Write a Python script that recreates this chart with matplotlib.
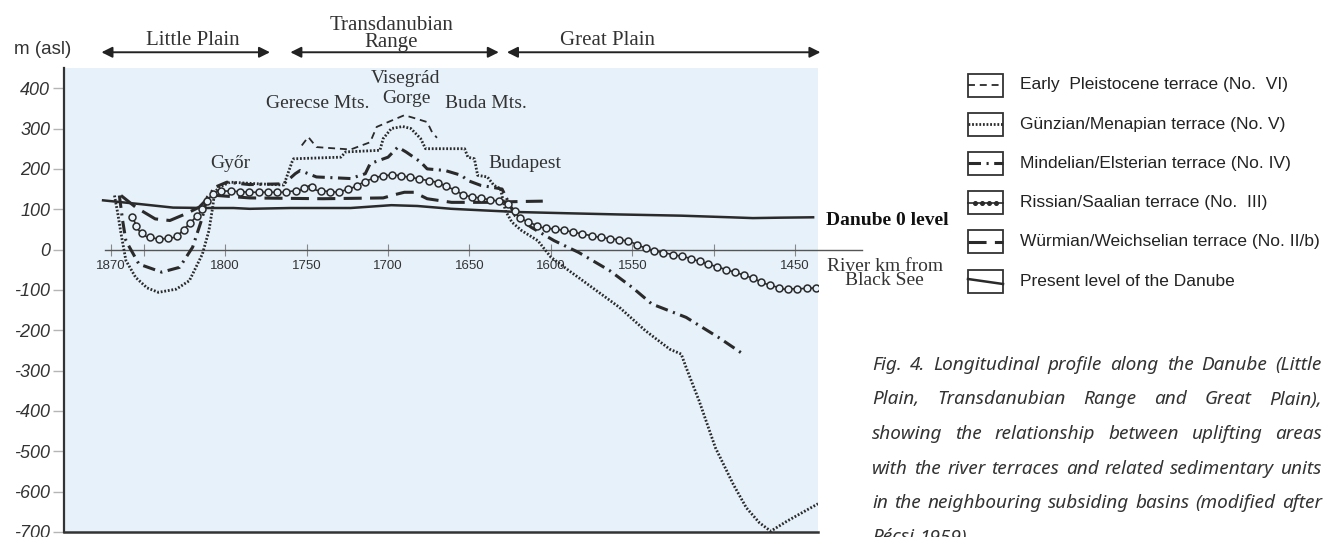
import numpy as np
import matplotlib
matplotlib.use("Agg")
import matplotlib.pyplot as plt
from matplotlib.patches import Rectangle

plt.rcParams["font.family"] = "Liberation Sans"
plt.rcParams["lines.scale_dashes"] = False

# ---- data (river km from Black Sea, m asl) ----
danube_km = [1875, 1853, 1832, 1812, 1795, 1785, 1760, 1723, 1698, 1682, 1661, 1641,
             1620, 1590, 1558, 1520, 1490, 1476, 1460, 1439]
danube_m = [122, 113, 104, 103, 103, 101, 103, 103, 110, 108, 101, 97,
            93, 90, 87, 84, 80, 78, 79, 80]

riss_km = [1857, 1853, 1848, 1842, 1836, 1830, 1822, 1816, 1812, 1808, 1804, 1797,
           1785, 1765, 1754, 1748, 1744, 1731, 1723, 1713, 1703, 1694, 1682, 1670,
           1661, 1653, 1641, 1628, 1623, 1620, 1616, 1606, 1591, 1571, 1552, 1546,
           1538, 1517, 1497, 1480, 1468, 1457, 1447, 1437]
riss_m = [80, 47, 31, 27, 27, 31, 64, 89, 114, 138, 145, 145,
          142, 142, 147, 159, 147, 142, 151, 171, 184, 184, 176, 167,
          151, 134, 126, 117, 101, 80, 72, 55, 47, 31, 21, 10,
          -2, -19, -44, -65, -85, -98, -97, -95]

wurm_km = [1864, 1855, 1843, 1834, 1824, 1816, 1810, 1805, 1785, 1740, 1703, 1696,
           1690, 1684, 1676, 1661, 1640, 1620, 1605]
wurm_m = [134, 105, 76, 72, 89, 105, 130, 134, 128, 126, 128, 136,
          142, 142, 126, 117, 117, 119, 120]

mind_km = [1865, 1863, 1861, 1853, 1839, 1828, 1820, 1814, 1811, 1806, 1799, 1785,
           1764, 1757, 1754, 1744, 1723, 1714, 1711, 1700, 1694, 1689, 1680, 1676,
           1665, 1655, 1651, 1643, 1637, 1630, 1622, 1612, 1598, 1583, 1564, 1550,
           1538, 1517, 1497, 1482]
mind_m = [134, 72, 22, -36, -56, -44, 6, 80, 130, 155, 167, 161,
          163, 188, 196, 180, 176, 188, 213, 229, 254, 242, 217, 200,
          196, 184, 171, 159, 155, 150, 84, 55, 22, -7, -52, -94,
          -135, -168, -218, -259]

gunz_km = [1868, 1866, 1864, 1861, 1855, 1848, 1841, 1830, 1822, 1814, 1810, 1807.7,
           1806.5, 1803.5, 1797, 1780, 1764, 1759, 1758, 1729, 1726, 1705, 1703, 1698,
           1691, 1686, 1680, 1677, 1653, 1651, 1647, 1645, 1639, 1635, 1631, 1628,
           1624, 1618, 1608, 1600, 1589, 1558, 1542, 1527, 1520, 1517, 1509, 1499,
           1488, 1480, 1472, 1465, 1455, 1436]
gunz_m = [134, 90, 40, -27, -69, -95, -106, -98, -77, -11, 47, 105,
          142, 155, 167, 163, 160, 217, 225, 229, 242, 246, 275, 300,
          305, 300, 275, 250, 250, 229, 225, 184, 180, 159, 151, 97,
          68, 47, 22, -19, -52, -143, -201, -247, -259, -292, -375, -491,
          -582, -640, -677, -698, -673, -630]

early_km = [1753, 1749, 1744, 1723, 1711, 1707, 1700, 1690, 1684, 1676, 1673, 1670]
early_m = [258, 279, 254, 248, 266, 304, 316, 333, 326, 316, 291, 277]

ytick_vals = list(range(-700, 401, 100))
xtick_km = [1870, 1850, 1800, 1750, 1700, 1650, 1600, 1550, 1500, 1450]
xtick_labels = ["1870", "", "1800", "1750", "1700", "1650", "1600", "1550", "", "1450"]

legend_labels = [
    "Early  Pleistocene terrace (No.  VI)",
    "Günzian/Menapian terrace (No. V)",
    "Mindelian/Elsterian terrace (No. IV)",
    "Rissian/Saalian terrace (No.  III)",
    "Würmian/Weichselian terrace (No. II/b)",
    "Present level of the Danube",
]

caption_lines = [
    "Fig. 4.  Longitudinal profile along the Danube (Little",
    "Plain, Transdanubian Range and Great Plain),",
    "showing the relationship between uplifting areas",
    "with the river terraces and related sedimentary units",
    "in the neighbouring subsiding basins (modified after",
    "Pécsi 1959).",
]

ink = "#2a2a2a"
bg = "#e6f1fa"
serif = "Liberation Serif"

# line styles (dash patterns in points)
st_early = dict(color=ink, lw=1.3, dashes=(5, 3.5))
st_gunz = dict(color=ink, lw=2.0, dashes=(1.3, 1.3))
st_mind = dict(color=ink, lw=2.2, dashes=(9, 4, 1.5, 4))
st_riss = dict(color=ink, lw=1.2)
st_wurm = dict(color=ink, lw=2.2, dashes=(13, 6))
st_dan = dict(color=ink, lw=1.8)

fig = plt.figure(figsize=(13.32, 5.37), dpi=100)
ax = fig.add_axes([64 / 1332, 5 / 537, 754 / 1332, 464 / 537])
ax.set_facecolor(bg)
ax.set_xlim(1899, 1436)
ax.set_ylim(-700, 450)

ax.spines["top"].set_visible(False)
ax.spines["right"].set_visible(False)
ax.spines["left"].set_color("#333333")
ax.spines["left"].set_linewidth(1.6)
ax.spines["bottom"].set_position(("data", 0))
ax.spines["bottom"].set_bounds(1874, 1409)
ax.spines["bottom"].set_color("#555555")
ax.spines["bottom"].set_linewidth(1.0)
ax.axhline(-700, color="#333333", lw=1.8, clip_on=False)

ax.set_yticks(ytick_vals)
ax.set_yticklabels([str(v) for v in ytick_vals])
for lbl in ax.get_yticklabels():
    lbl.set_style("italic")
ax.tick_params(axis="y", length=8, width=1, color="#b5b5b5", labelsize=13,
               labelcolor="#333333", pad=2)
ax.set_xticks(xtick_km)
ax.set_xticklabels(xtick_labels)
ax.tick_params(axis="x", direction="inout", length=9, width=0.8, color="#888888",
               labelsize=9.5, labelcolor="#333333", pad=3)

# curves
ax.plot(danube_km, danube_m, **st_dan, zorder=3)
ax.plot(wurm_km, wurm_m, **st_wurm, zorder=3)
ax.plot(mind_km, mind_m, **st_mind, zorder=3)
ax.plot(gunz_km, gunz_m, **st_gunz, zorder=3)
ax.plot(early_km, early_m, **st_early, zorder=3)
ax.plot(riss_km, riss_m, **st_riss, zorder=4)


# circles of the Rissian line sit at an even spacing along the drawn line
def along(xs, ys, step):
    pts = ax.transData.transform(np.column_stack([xs, ys]))
    seg = np.hypot(*np.diff(pts, axis=0).T)
    dist = np.concatenate([[0], np.cumsum(seg)])
    d = np.arange(0, dist[-1] + 0.1, step)
    p = np.column_stack([np.interp(d, dist, pts[:, 0]), np.interp(d, dist, pts[:, 1])])
    return ax.transData.inverted().transform(p)


rc = along(riss_km, riss_m, 9.3)
ax.plot(rc[:, 0], rc[:, 1], ls="none", marker="o", ms=5, mfc=bg, mec=ink,
        mew=1.1, zorder=5)

# place names
txt = dict(family=serif, color="#333333", ha="center", va="center")
ax.text(1689, 425, "Visegrád", fontsize=14, **txt)
ax.text(1689, 375, "Gorge", fontsize=14, **txt)
ax.text(1743, 362, "Gerecse Mts.", fontsize=14, **txt)
ax.text(1640, 362, "Buda Mts.", fontsize=14, **txt)
ax.text(1797, 213, "Győr", fontsize=14, **txt)
ax.text(1616, 213, "Budapest", fontsize=14, **txt)
ax.text(1431, 72, "Danube 0 level", fontsize=14, family=serif, weight="bold",
        color="#111111", ha="left", va="center", clip_on=False)
ax.text(1395, -60, "River km from\nBlack See", fontsize=14, family=serif,
        color="#333333", ha="center", va="center", linespacing=0.75, clip_on=False)

# regions above the plot
for a, b in [(1876, 1772.5), (1760, 1632), (1627, 1434.5)]:
    ax.annotate("", xy=(b, 489), xytext=(a, 489),
                arrowprops=dict(arrowstyle="<|-|>", color="#222222", lw=1.4,
                                mutation_scale=16, shrinkA=0, shrinkB=0),
                annotation_clip=False)
ax.text(1820, 519, "Little Plain", fontsize=15, clip_on=False, **txt)
ax.text(1698, 535, "Transdanubian\nRange", fontsize=15, clip_on=False,
        linespacing=0.85, **txt)
ax.text(1565, 519, "Great Plain", fontsize=15, clip_on=False, **txt)

fig.text(43 / 1332, 1 - 50 / 537, "m (asl)", fontsize=13.5, color="#333333",
         ha="center", va="center")

# legend and caption in pixel coordinates
ov = fig.add_axes([0, 0, 1, 1])
ov.set_xlim(0, 1332)
ov.set_ylim(537, 0)
ov.axis("off")

styles = [st_early, st_gunz, st_mind, None, st_wurm, None]
for i, (lab, stl) in enumerate(zip(legend_labels, styles)):
    yc = 85 + i * 39.2
    ov.add_patch(Rectangle((968, yc - 11.5), 35, 23, fill=False, ec="#333333", lw=1.3))
    if i == 3:
        ov.plot([968, 1003], [yc, yc], color=ink, lw=1.2)
        ov.plot([975, 982, 989, 996], [yc] * 4, ls="none", marker="o", ms=2.6, color=ink)
    elif i == 5:
        ov.plot([968, 1003], [yc - 2, yc + 3], color=ink, lw=1.8)
    else:
        ov.plot([968, 1003], [yc, yc], **stl)
    ov.text(1020, yc, lab, fontsize=12.5, color="#222222", ha="left", va="center")

# justified caption; font size chosen so the longest line fills the column
r = fig.canvas.get_renderer()
cap = dict(family="Noto Sans", style="italic", color="#333333", ha="left", va="center")
probe = ov.text(0, 0, caption_lines[3], fontsize=12.5, **cap)
cap_size = 12.5 * 440 / probe.get_window_extent(r).width
probe.remove()
for i, line in enumerate(caption_lines):
    words = line.split()
    y = 365 + i * 34.5
    ts = [ov.text(0, y, w, fontsize=cap_size, **cap) for w in words]
    widths = [t.get_window_extent(r).width for t in ts]
    if i == len(caption_lines) - 1:
        gap = 0.3 * cap_size * 1.389
    else:
        gap = (450 - sum(widths)) / (len(words) - 1)
    x = 872
    for t, w in zip(ts, widths):
        t.set_x(x)
        x += w + gap

fig.savefig("out.png", dpi=100)
